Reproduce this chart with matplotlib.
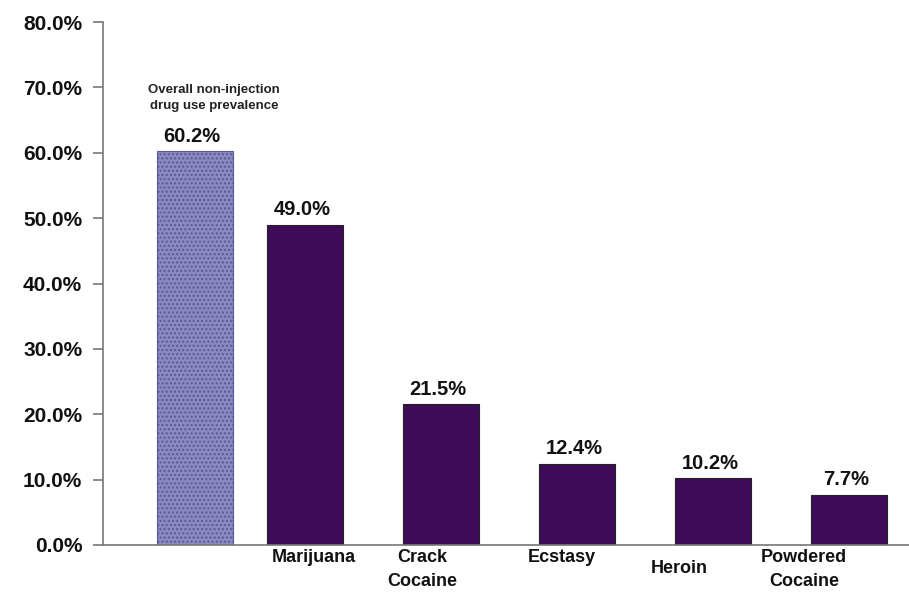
import matplotlib.pyplot as plt
import matplotlib.transforms as mtransforms
import numpy as np

plt.rcParams['font.family'] = ['Liberation Sans', 'DejaVu Sans']

categories = ["", "Marijuana", "Crack\nCocaine", "Ecstasy", "Heroin", "Powdered\nCocaine"]
values = [60.2, 49.0, 21.5, 12.4, 10.2, 7.7]
yticks = [0, 10, 20, 30, 40, 50, 60, 70, 80]
note = "Overall non-injection\ndrug use prevalence"

fig = plt.figure(figsize=(9.09, 5.92), dpi=100)
ax = fig.add_axes([0.1133, 0.0794, 0.8867, 0.8834])

x = np.arange(len(values), dtype=float)
x[0] += 0.19  # first bar sits a bit closer to the second one
colors = ["#8b89c2"] + ["#3e0c58"] * 5

bars = ax.bar(x, values, width=0.56, color=colors, edgecolor="#222222", linewidth=0.8)
bars[0].set_hatch("....")
bars[0].set_edgecolor("#5a5890")

for xi, v in zip(x, values):
    ax.annotate(f"{v:.1f}%", (xi, v), xytext=(-2, 4), textcoords="offset points",
                ha="center", va="bottom", fontsize=14.5, fontweight="bold", color="#111111")

ax.text(x[0] + 0.14, 66.3, note, ha="center", va="bottom", fontsize=9.5,
        fontweight="bold", color="#222222", linespacing=1.45)

ax.set_xlim(-0.485, 5.44)
ax.set_ylim(0, 80)
ax.set_yticks(yticks)
ax.set_yticklabels([f"{t:.1f}%" for t in yticks], fontsize=15, fontweight="bold", color="#111111")
ax.tick_params(axis="y", direction="out", length=7, width=1.2, color="#777777", pad=8)

ax.set_xticks(x)
ax.set_xticklabels(categories, fontsize=13, fontweight="bold", color="#111111",
                   va="top", linespacing=1.55)
ax.tick_params(axis="x", length=0, pad=3)
# shift labels like the original export (px, px)
shifts = [(0, 0), (9, 0), (-19, 0), (-15, 0), (-34, -11), (-45, 0)]
for lab, (dx, dy) in zip(ax.get_xticklabels(), shifts):
    lab.set_transform(lab.get_transform() + mtransforms.Affine2D().translate(dx, dy))

for s in ["top", "right"]:
    ax.spines[s].set_visible(False)
ax.spines["left"].set_color("#777777")
ax.spines["left"].set_linewidth(1.2)
ax.spines["bottom"].set_color("#777777")
ax.spines["bottom"].set_linewidth(1.2)

plt.savefig("out.png", dpi=100)
